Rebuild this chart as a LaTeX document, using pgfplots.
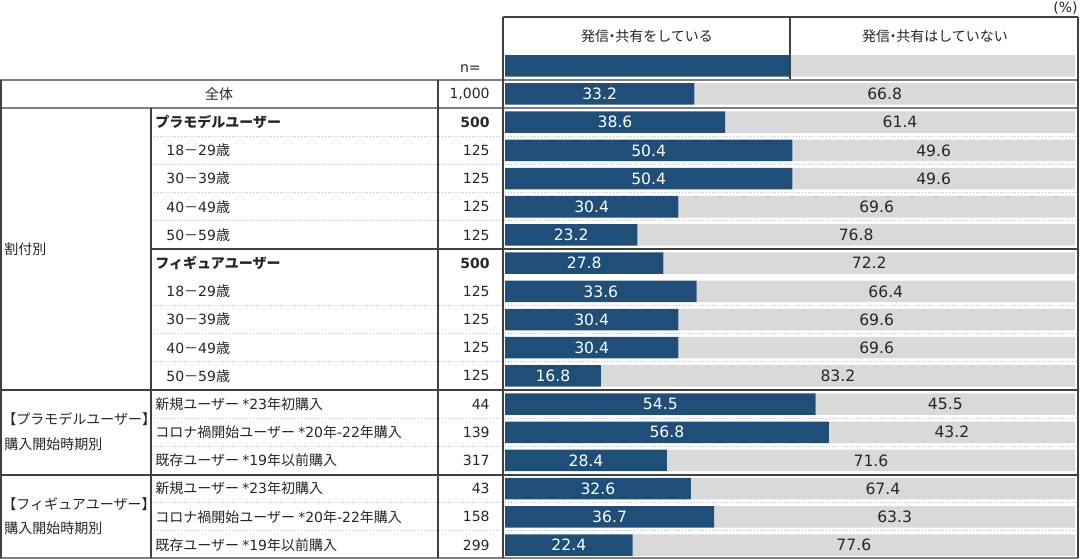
\documentclass[border=0pt]{standalone}
\usepackage{fontspec}
\setmainfont{Noto Sans CJK JP}
\newfontfamily\numf{DejaVu Sans}
\usepackage{pgfplots}
\usepackage{pgfplotstable}
\pgfplotsset{compat=1.18}
\definecolor{barblue}{HTML}{1F4E79}
\definecolor{bargrey}{HTML}{D9D9D9}
\definecolor{linedark}{HTML}{404040}
\definecolor{linegrey}{HTML}{7F7F7F}
\definecolor{dotgrey}{HTML}{BFBFBF}
\definecolor{txt}{HTML}{262626}

% row 0 = legend bar in the header
\pgfplotstableread{
row a b
0 50 50
1 33.2 66.8
2 38.6 61.4
3 50.4 49.6
4 50.4 49.6
5 30.4 69.6
6 23.2 76.8
7 27.8 72.2
8 33.6 66.4
9 30.4 69.6
10 30.4 69.6
11 16.8 83.2
12 54.5 45.5
13 56.8 43.2
14 28.4 71.6
15 32.6 67.4
16 36.7 63.3
17 22.4 77.6
}\datatable

\pgfplotsset{
  base/.style={
    width=540pt, height=279.5pt, scale only axis,
    xmin=-88.5965, xmax=100.8772,
    ymin=-2.3344, ymax=17.4953, y dir=reverse,
    hide axis, clip=false,
  },
  lbl/.style={
    only marks, mark=none,
    nodes near coords={\numf\pgfmathprintnumber[fixed,fixed zerofill,precision=1,assume math mode=true]{\pgfplotspointmeta}},
    every node near coord/.append style={anchor=center, inner sep=0pt, font=\fontsize{7.8}{9}\selectfont},
    skip coords between index={0}{1},
  },
}

\newcommand\nakaten{\kern-0.28em・\kern-0.28em}

\begin{document}
\begin{tikzpicture}[font=\fontsize{7}{8.4}\selectfont]
\begin{axis}[base, xbar stacked, bar width=0.763]
\addplot[fill=barblue, draw=none] table[x=a,y=row]{\datatable};
\addplot[fill=bargrey, draw=none] table[x=b,y=row]{\datatable};
\end{axis}
\begin{axis}[base]
\addplot[lbl, point meta=\thisrow{a}, nodes near coords style={text=white}] table[x expr=\thisrow{a}/2, y=row]{\datatable};
\addplot[lbl, point meta=\thisrow{b}, nodes near coords style={text=txt}] table[x expr=\thisrow{a}+\thisrow{b}/2, y=row]{\datatable};
\end{axis}
\begin{scope}[shift={(current axis.north west)}, x=0.5pt, y=-0.5pt]
  % dotted separators
  \foreach \yy in {136.29,164.48,192.67,220.86,305.43,333.62,361.81,418.19,446.38,502.76,530.95} {
    \draw[dotgrey, line width=0.5pt, densely dotted] (151,\yy) -- (1078,\yy);
  }
  % solid grey lines
  \draw[linegrey, line width=0.75pt] (0,80) -- (1078,80);
  \draw[linegrey, line width=0.75pt] (0,108.1) -- (1078,108.1);
  \draw[linegrey, line width=0.75pt] (0,557.8) -- (1078,557.8);
  % thick dark
  \draw[linedark, line width=1pt] (151,249) -- (1078,249);
  \draw[linedark, line width=1pt] (0,390.1) -- (1078,390.1);
  \draw[linedark, line width=1pt] (0,474.6) -- (1078,474.6);
  % verticals
  \draw[linedark, line width=0.75pt] (0.75,80) -- (0.75,558);
  \draw[linedark, line width=0.6pt] (151,108.1) -- (151,558);
  \draw[linedark, line width=0.6pt] (438,80) -- (438,558);
  \draw[linedark, line width=0.75pt] (503,17) -- (503,558);
  \draw[linedark, line width=1pt] (1078,17) -- (1078,558);
  \draw[linedark, line width=0.6pt] (503,17) -- (1078,17);
  \draw[linedark, line width=0.6pt] (790,17) -- (790,79);
  % header
  \node[txt] at (647,36.5) {発信\nakaten 共有をしている};
  \node[txt] at (935,36.5) {発信\nakaten 共有はしていない};
  \node[txt, anchor=east, inner sep=0pt] at (1078,8) {\numf (\%)};
  \node[txt, anchor=east, inner sep=0pt] at (481,69) {\numf n=};
  % row labels
  \node[txt] at (219,94.0) {全体};
  \node[txt, anchor=west, inner sep=0pt] at (155,122.19) {\bfseries プラモデルユーザー};
  \node[txt, anchor=west, inner sep=0pt] at (166,150.38) {{\numf 18}－{\numf 29}歳};
  \node[txt, anchor=west, inner sep=0pt] at (166,178.57) {{\numf 30}－{\numf 39}歳};
  \node[txt, anchor=west, inner sep=0pt] at (166,206.76) {{\numf 40}－{\numf 49}歳};
  \node[txt, anchor=west, inner sep=0pt] at (166,234.95) {{\numf 50}－{\numf 59}歳};
  \node[txt, anchor=west, inner sep=0pt] at (155,263.14) {\bfseries フィギュアユーザー};
  \node[txt, anchor=west, inner sep=0pt] at (166,291.33) {{\numf 18}－{\numf 29}歳};
  \node[txt, anchor=west, inner sep=0pt] at (166,319.52) {{\numf 30}－{\numf 39}歳};
  \node[txt, anchor=west, inner sep=0pt] at (166,347.71) {{\numf 40}－{\numf 49}歳};
  \node[txt, anchor=west, inner sep=0pt] at (166,375.90) {{\numf 50}－{\numf 59}歳};
  \node[txt, anchor=west, inner sep=0pt] at (155,404.09) {新規ユーザー {\numf *23}年初購入};
  \node[txt, anchor=west, inner sep=0pt] at (155,432.28) {コロナ禍開始ユーザー {\numf *20}年{\numf -22}年購入};
  \node[txt, anchor=west, inner sep=0pt] at (155,460.47) {既存ユーザー {\numf *19}年以前購入};
  \node[txt, anchor=west, inner sep=0pt] at (155,488.66) {新規ユーザー {\numf *23}年初購入};
  \node[txt, anchor=west, inner sep=0pt] at (155,516.85) {コロナ禍開始ユーザー {\numf *20}年{\numf -22}年購入};
  \node[txt, anchor=west, inner sep=0pt] at (155,545.04) {既存ユーザー {\numf *19}年以前購入};
  % group labels
  \node[txt, anchor=west, inner sep=0pt] at (2,419.5) {【プラモデルユーザー】};
  \node[txt, anchor=west, inner sep=0pt] at (4,444) {購入開始時期別};
  \node[txt, anchor=west, inner sep=0pt] at (2,504) {【フィギュアユーザー】};
  \node[txt, anchor=west, inner sep=0pt] at (4,528.5) {購入開始時期別};
  \node[txt, anchor=west, inner sep=0pt] at (4,249) {割付別};
  % n values
  \foreach \yy/\nn in {94.0/{1,000},150.38/125,178.57/125,206.76/125,234.95/125,291.33/125,319.52/125,347.71/125,375.90/125,404.09/44,432.28/139,460.47/317,488.66/43,516.85/158,545.04/299} {
    \node[txt, anchor=east, inner sep=0pt] at (490,\yy) {\numf \nn};
  }
  \node[txt, anchor=east, inner sep=0pt] at (490,122.19) {\numf\bfseries 500};
  \node[txt, anchor=east, inner sep=0pt] at (490,263.14) {\numf\bfseries 500};
\end{scope}
\pgfresetboundingbox
\path (current axis.south west) rectangle (current axis.north east);
\end{tikzpicture}
\end{document}
